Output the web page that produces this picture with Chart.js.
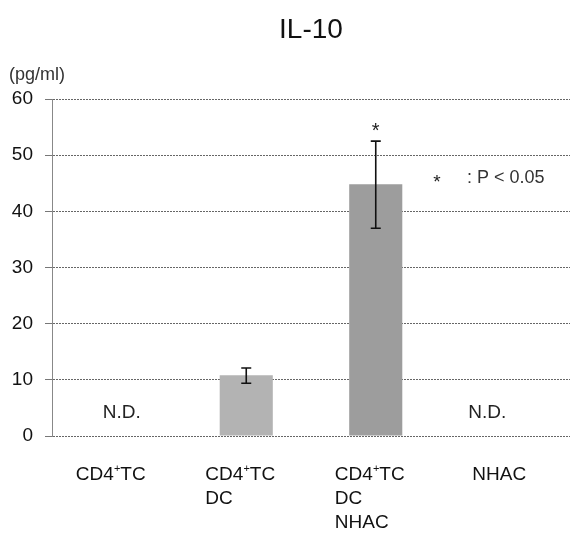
<!DOCTYPE html>
<html lang="en">
<head>
    <meta charset="UTF-8">
    <title>IL-10</title>
    <script src="https://cdn.jsdelivr.net/npm/chart.js@4.4.1/dist/chart.umd.min.js"></script>
    <style>
        html, body {
            margin: 0;
            padding: 0;
            background: #ffffff;
        }
        #wrap {
            width: 574px;
            height: 543px;
        }
    </style>
</head>
<body>
    <div id="wrap"><canvas id="il10Chart" width="574" height="543"></canvas></div>

    <script>
        // Groups on the x axis ("⁺" is drawn as a raised plus)
        const categories = [
            ['CD4⁺TC'],
            ['CD4⁺TC', 'DC'],
            ['CD4⁺TC', 'DC', 'NHAC'],
            ['NHAC']
        ];
        // IL-10 (pg/ml), null = not detected
        const means = [null, 10.8, 44.8, null];
        const errLow = [null, 9.4, 37.0, null];
        const errHigh = [null, 12.1, 52.5, null];
        const notDetected = [true, false, false, true];
        const significant = [false, false, true, false];
        const barColors = ['#b3b3b3', '#b3b3b3', '#9d9d9d', '#9d9d9d'];
        const yMin = 0, yMax = 60, yStep = 10;

        const FONT = '"Liberation Sans", Arial, sans-serif';

        // text with a superscript plus
        function textWidth(ctx, str, size) {
            const parts = str.split('⁺');
            ctx.font = size + 'px ' + FONT;
            let w = ctx.measureText(parts[0]).width;
            if (parts.length > 1) {
                ctx.font = Math.round(size * 0.6) + 'px ' + FONT;
                w += ctx.measureText('+').width;
                ctx.font = size + 'px ' + FONT;
                w += ctx.measureText(parts[1]).width;
            }
            return w;
        }
        function drawSupText(ctx, str, x, y, size) {
            const parts = str.split('⁺');
            ctx.textAlign = 'left';
            ctx.textBaseline = 'middle';
            ctx.font = size + 'px ' + FONT;
            ctx.fillText(parts[0], x, y);
            x += ctx.measureText(parts[0]).width;
            if (parts.length > 1) {
                ctx.font = Math.round(size * 0.6) + 'px ' + FONT;
                ctx.fillText('+', x, y - size * 0.3);
                x += ctx.measureText('+').width;
                ctx.font = size + 'px ' + FONT;
                ctx.fillText(parts[1], x, y);
            }
        }

        const annotations = {
            id: 'annotations',
            afterDatasetsDraw(chart) {
                const ctx = chart.ctx;
                const xs = chart.scales.x;
                const ys = chart.scales.y;
                const area = chart.chartArea;
                ctx.save();

                // error bars
                ctx.strokeStyle = '#111';
                ctx.lineWidth = 1.6;
                means.forEach((m, i) => {
                    if (m === null) return;
                    const cx = xs.getPixelForValue(i);
                    const top = ys.getPixelForValue(errHigh[i]);
                    const bot = ys.getPixelForValue(errLow[i]);
                    ctx.beginPath();
                    ctx.moveTo(cx, top); ctx.lineTo(cx, bot);
                    ctx.moveTo(cx - 5, top); ctx.lineTo(cx + 5, top);
                    ctx.moveTo(cx - 5, bot); ctx.lineTo(cx + 5, bot);
                    ctx.stroke();
                });

                ctx.fillStyle = '#222';
                // significance stars
                significant.forEach((s, i) => {
                    if (!s) return;
                    ctx.font = '20px ' + FONT;
                    ctx.textAlign = 'center';
                    ctx.textBaseline = 'middle';
                    ctx.fillText('*', xs.getPixelForValue(i), ys.getPixelForValue(errHigh[i]) - 10);
                });

                // N.D.
                const ndShift = [5, 0, 0, -18];
                notDetected.forEach((nd, i) => {
                    if (!nd) return;
                    ctx.font = '19px ' + FONT;
                    ctx.textAlign = 'center';
                    ctx.textBaseline = 'middle';
                    ctx.fillText('N.D.', xs.getPixelForValue(i) + ndShift[i], area.bottom - 23);
                });

                // legend note
                ctx.font = '19px ' + FONT;
                ctx.textAlign = 'center';
                ctx.textBaseline = 'middle';
                ctx.fillText('*', 437, 183);
                ctx.font = '18px ' + FONT;
                ctx.textAlign = 'left';
                ctx.fillStyle = '#333';
                ctx.fillText(': P < 0.05', 467, 178);

                // category labels, lines left-aligned in a centred block
                ctx.fillStyle = '#111';
                categories.forEach((lines, i) => {
                    const w = Math.max(...lines.map(l => textWidth(ctx, l, 19)));
                    const left = xs.getPixelForValue(i) - 6 - w / 2;
                    lines.forEach((l, k) => {
                        drawSupText(ctx, l, left, area.bottom + 39 + k * 24, 19);
                    });
                });

                // title and unit
                ctx.fillStyle = '#111';
                ctx.font = '28px ' + FONT;
                ctx.textAlign = 'center';
                ctx.textBaseline = 'middle';
                ctx.fillText('IL-10', (area.left + area.right) / 2, 30);
                ctx.font = '18px ' + FONT;
                ctx.textAlign = 'left';
                ctx.fillStyle = '#333';
                ctx.fillText('(pg/ml)', 9, 75);

                ctx.restore();
            }
        };

        new Chart(document.getElementById('il10Chart'), {
            type: 'bar',
            data: {
                labels: categories,
                datasets: [{
                    data: means,
                    backgroundColor: barColors,
                    borderWidth: 0,
                    barPercentage: 0.41,
                    categoryPercentage: 1.0
                }]
            },
            options: {
                responsive: false,
                animation: false,
                events: [],
                layout: {
                    padding: { top: 99, right: 4, bottom: 107, left: 0 }
                },
                plugins: {
                    legend: { display: false },
                    tooltip: { enabled: false }
                },
                scales: {
                    x: {
                        display: false
                    },
                    y: {
                        min: yMin,
                        max: yMax,
                        afterFit(scale) { scale.width = 52; },
                        ticks: {
                            stepSize: yStep,
                            padding: 12,
                            color: '#111',
                            font: { family: FONT, size: 19 }
                        },
                        grid: {
                            color: '#666',
                            lineWidth: 1,
                            tickLength: 7,
                            tickColor: '#777'
                        },
                        border: {
                            display: true,
                            color: '#888',
                            width: 1,
                            dash: [2, 1]
                        }
                    }
                }
            },
            plugins: [annotations]
        });
    </script>
</body>
</html>
